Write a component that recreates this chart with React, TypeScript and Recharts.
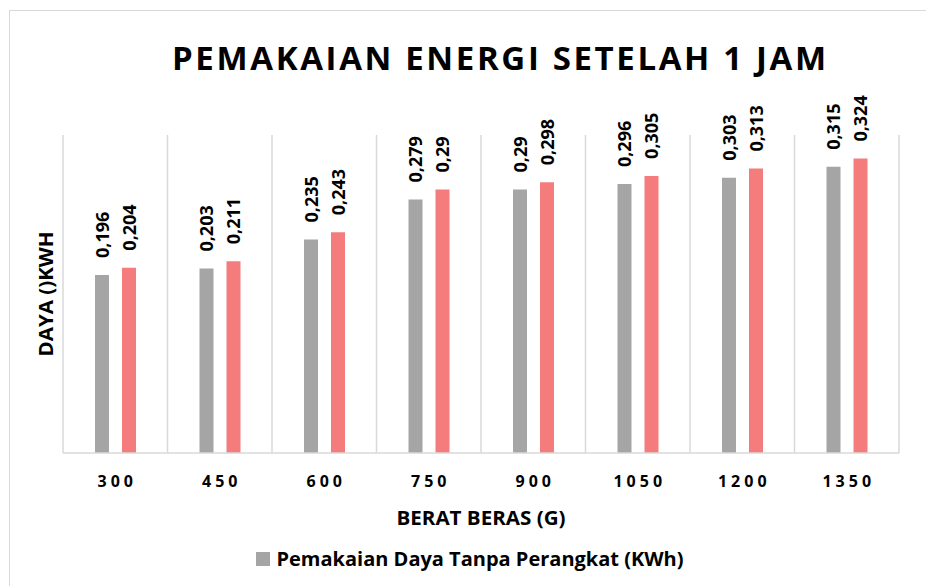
import React from "react";
import { BarChart, Bar, XAxis, YAxis, CartesianGrid, LabelList } from "recharts";

const WEIGHTS = ["300", "450", "600", "750", "900", "1050", "1200", "1350"];
const TANPA = [0.196, 0.203, 0.235, 0.279, 0.29, 0.296, 0.303, 0.315];
const DENGAN = [0.204, 0.211, 0.243, 0.29, 0.298, 0.305, 0.313, 0.324];
const SERIES = ["Pemakaian Daya Tanpa Perangkat (KWh)", "Pemakaian Daya Dengan Perangkat (KWh)"];
const COLORS = ["#a5a5a5", "#f47c7c"];

const FONT = "'Open Sans', 'Noto Sans', sans-serif";

const data = WEIGHTS.map((w, i) => ({ weight: w, tanpa: TANPA[i], dengan: DENGAN[i] }));

const W = 926;
const H = 586;
const PLOT = { left: 63, right: 27, top: 135, bottom: 453 };
const X_AXIS_H = 75;

function ValueLabel(props: any) {
  const { x, y, width, value } = props;
  const cx = x + width / 2;
  const ty = y - 17;
  return (
    <text
      x={cx}
      y={ty}
      transform={`rotate(-90 ${cx} ${ty})`}
      textAnchor="start"
      dominantBaseline="central"
      fontFamily={FONT}
      fontWeight={700}
      fontSize={18}
      fill="#000"
    >
      {String(value).replace(".", ",")}
    </text>
  );
}

function WeightTick(props: any) {
  const { x, y, payload } = props;
  return (
    <text
      x={x + 2}
      y={y + 26}
      textAnchor="middle"
      fontFamily={FONT}
      fontWeight={700}
      fontSize={16}
      letterSpacing={4}
      fill="#000"
    >
      {payload.value}
    </text>
  );
}

export default function App() {
  return (
    <div
      style={{
        position: "absolute",
        left: 0,
        top: 0,
        width: W,
        height: H,
        overflow: "hidden",
        background: "#fff",
        fontFamily: FONT,
      }}
    >
      <div
        style={{
          position: "absolute",
          left: 9,
          top: 10,
          width: W + 20,
          height: H + 20,
          border: "1.5px solid #d9d9d9",
        }}
      />
      <svg width={W} height={H} style={{ position: "absolute", left: 0, top: 0 }}>
        <text
          x={499}
          y={70}
          textAnchor="middle"
          textLength={654}
          lengthAdjust="spacing"
          fontFamily={FONT}
          fontWeight={700}
          fontSize={33}
          fill="#000"
        >
          PEMAKAIAN ENERGI SETELAH 1 JAM
        </text>
        <text
          x={45}
          y={294}
          transform="rotate(-90 45 294)"
          textAnchor="middle"
          dominantBaseline="central"
          textLength={125}
          lengthAdjust="spacingAndGlyphs"
          fontFamily={FONT}
          fontWeight={700}
          fontSize={20}
          fill="#000"
        >
          DAYA ()KWH
        </text>
      </svg>
      <div style={{ position: "absolute", left: 0, top: 0 }}>
        <BarChart
          width={W}
          height={H}
          data={data}
          margin={{ top: PLOT.top, right: PLOT.right, left: PLOT.left, bottom: H - PLOT.bottom - X_AXIS_H }}
          barSize={14}
          barGap={13}
        >
          <CartesianGrid
            horizontal={false}
            stroke="#d9d9d9"
            strokeWidth={1.5}
            verticalCoordinatesGenerator={({ offset }: any) =>
              Array.from({ length: WEIGHTS.length + 1 }, (_, i) => offset.left + (i * offset.width) / WEIGHTS.length)
            }
          />
          <XAxis
            dataKey="weight"
            height={X_AXIS_H}
            tickLine={false}
            axisLine={{ stroke: "#d9d9d9", strokeWidth: 1.5 }}
            tick={<WeightTick />}
            interval={0}
            label={{
              value: "BERAT BERAS (G)",
              position: "insideBottom",
              offset: 3,
              fill: "#000",
              fontFamily: FONT,
              fontWeight: 700,
              fontSize: 19,
              textLength: 169,
              lengthAdjust: "spacingAndGlyphs",
            }}
          />
          <YAxis hide domain={[0, 0.35]} />
          <Bar dataKey="tanpa" name={SERIES[0]} fill={COLORS[0]} isAnimationActive={false}>
            <LabelList dataKey="tanpa" content={<ValueLabel />} />
          </Bar>
          <Bar dataKey="dengan" name={SERIES[1]} fill={COLORS[1]} isAnimationActive={false}>
            <LabelList dataKey="dengan" content={<ValueLabel />} />
          </Bar>
        </BarChart>
      </div>
      {/* the reference only shows the first legend entry; the second one sits below the visible frame */}
      <div
        style={{
          position: "absolute",
          left: 230,
          top: 546,
          width: 480,
          display: "flex",
          justifyContent: "center",
        }}
      >
        {SERIES.slice(0, 1).map((name, i) => (
          <div key={name} style={{ display: "flex", alignItems: "center", margin: "0 10px" }}>
            <span style={{ display: "inline-block", width: 14, height: 14, background: COLORS[i], marginRight: 6 }} />
            <span style={{ fontSize: 20, fontWeight: 700, color: "#000", lineHeight: "26px", whiteSpace: "nowrap" }}>
              {name}
            </span>
          </div>
        ))}
      </div>
    </div>
  );
}
